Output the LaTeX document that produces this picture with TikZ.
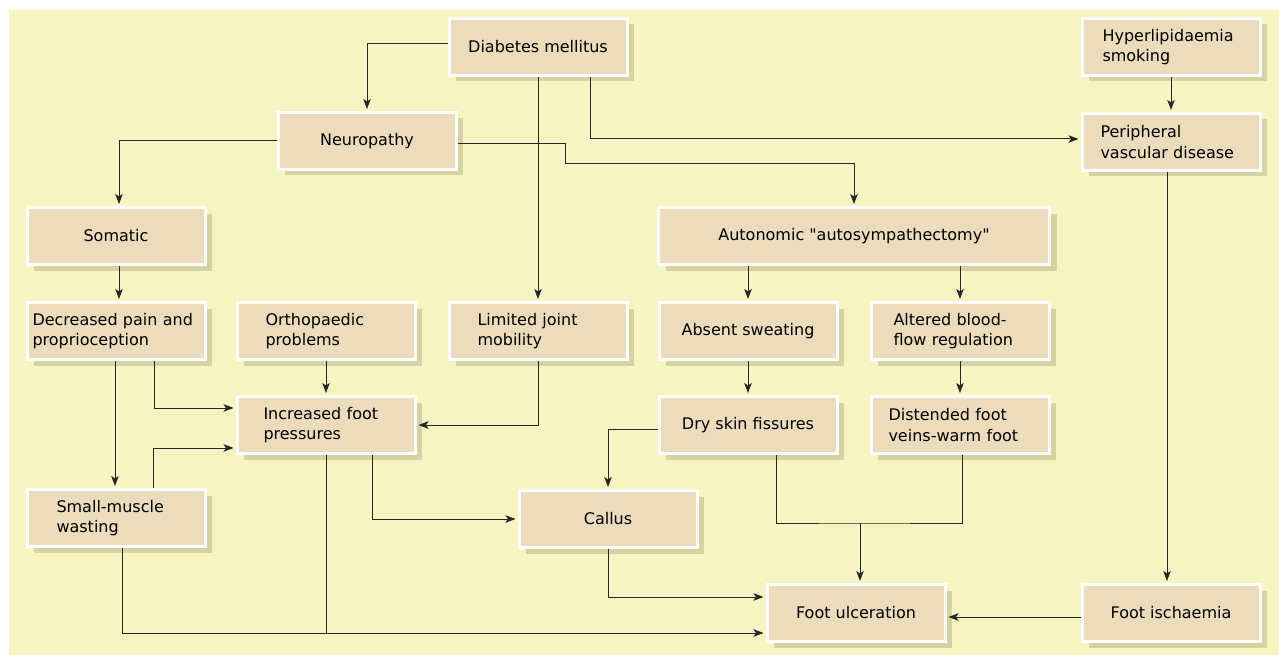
\documentclass[tikz,border=0pt]{standalone}
\usepackage{fontspec}
\setmainfont{DejaVu Sans}[Ligatures=TeXOff]
\usetikzlibrary{shadows,arrows.meta}
\definecolor{bgy}{HTML}{F6F5C1}
\definecolor{boxf}{HTML}{EDDCBC}
\definecolor{shad}{HTML}{D5D3A3}
\definecolor{lncol}{HTML}{262626}
\begin{document}
\begin{tikzpicture}[x=1pt,y=-1pt,
 box/.style={draw=white, line width=3pt, fill=boxf, minimum width=178pt, minimum height=57pt,
   inner ysep=0pt, inner xsep=2pt, align=center, font=\fontsize{16}{20.5}\selectfont, text=black,
   drop shadow={shadow xshift=7pt,shadow yshift=-6pt,fill=shad,opacity=1}},
 lt/.style 2 args={align=left, text width=#1, inner xsep=#2},
 conn/.style={draw=lncol, line width=1pt},
 arr/.style={conn, -{Stealth[length=10pt,width=7.5pt,inset=2.5pt]}, shorten >=2pt}]
\useasboundingbox (0,0) rectangle (1279,655);
\fill[white] (0,0) rectangle (1279,655);
\fill[bgy] (9,10) rectangle (1279,655);

\node[box] (dm) at (538,47) {Diabetes mellitus};
\node[box,lt={137pt}{20.5pt}] (hyp) at (1171,47) {Hyperlipidaemia\\smoking};
\node[box] (neuro) at (367,141) {Neuropathy};
\node[box,lt={141pt}{18.5pt}] (pvd) at (1171,142) {Peripheral\\vascular disease};
\node[box] (som) at (116,236) {Somatic};
\node[box,minimum width=391pt] (auto) at (854,236) {Autonomic "autosympathectomy"};
\node[box,lt={167pt}{5.5pt}] (dec) at (116,331) {Decreased pain and\\proprioception};
\node[box,lt={121pt}{28.5pt}] (ortho) at (326,331) {Orthopaedic\\problems};
\node[box,lt={121pt}{28.5pt}] (lim) at (538,331) {Limited joint\\mobility};
\node[box] (abs) at (748,331) {Absent sweating};
\node[box,lt={133pt}{22.5pt}] (alt) at (960,331) {Altered blood-\\flow regulation};
\node[box,lt={125pt}{26.5pt}] (inc) at (326,425) {Increased foot\\pressures};
\node[box] (dry) at (748,425) {Dry skin fissures};
\node[box,lt={143pt}{17.5pt}] (dist) at (960,425) {Distended foot\\veins-warm foot};
\node[box,lt={119pt}{29.5pt}] (smw) at (116,518) {Small-muscle\\wasting};
\node[box] (cal) at (608,519) {Callus};
\node[box] (ulc) at (856,613) {Foot ulceration};
\node[box] (isch) at (1171,613) {Foot ischaemia};

\draw[arr] ([yshift=3pt]dm.west) -| (neuro.north);
\draw[arr] (dm.south) -- (lim.north);
\draw[arr] ([xshift=52pt]dm.south) |- ([yshift=3pt]pvd.west);
\draw[arr] (hyp.south) -- (pvd.north);
\draw[arr] (neuro.west) -| ([xshift=3pt]som.north);
\coordinate (n1) at (565,164);
\draw[arr] ([yshift=-3pt]neuro.east) -| (n1) -| (auto.north);
\draw[arr] ([xshift=-4pt]pvd.south) -- ([xshift=-4pt]isch.north);
\draw[arr] ([xshift=3pt]som.south) -- ([xshift=3pt]dec.north);
\draw[arr] (abs.north |- auto.south) -- (abs.north);
\draw[arr] (alt.north |- auto.south) -- (alt.north);
\draw[arr] (abs.south) -- (dry.north);
\draw[arr] (alt.south) -- (dist.north);
\draw[arr] (ortho.south) -- (inc.north);
\draw[arr] ([xshift=38pt]dec.south) |- ([yshift=17pt]inc.west);
\draw[arr] ([xshift=-1pt]dec.south) -- ([xshift=-1pt]smw.north);
\draw[arr] ([xshift=37pt]smw.north) |- ([yshift=-23pt]inc.west);
\draw[arr] (lim.south) |- (inc.east);
\draw[arr] ([xshift=46pt]inc.south) |- (cal.west);
\coordinate (j1) at ([yshift=-20pt]ulc.west);
\draw[arr] ([xshift=6pt]smw.south) |- (j1);
\draw[conn] (inc.south) -- (inc.south |- j1);
\draw[arr] ([yshift=-4pt]dry.west) -| (cal.north);
\coordinate (j2) at (860,523);
\draw[conn] ([xshift=28pt]dry.south) |- (j2) -| ([xshift=2pt]dist.south);
\draw[arr] (j2) -- (j2 |- ulc.north);
\draw[arr] (cal.south) |- ([yshift=16pt]ulc.west);
\draw[arr] ([yshift=-4pt]isch.west) -- ([yshift=-4pt]ulc.east);
\end{tikzpicture}
\end{document}
